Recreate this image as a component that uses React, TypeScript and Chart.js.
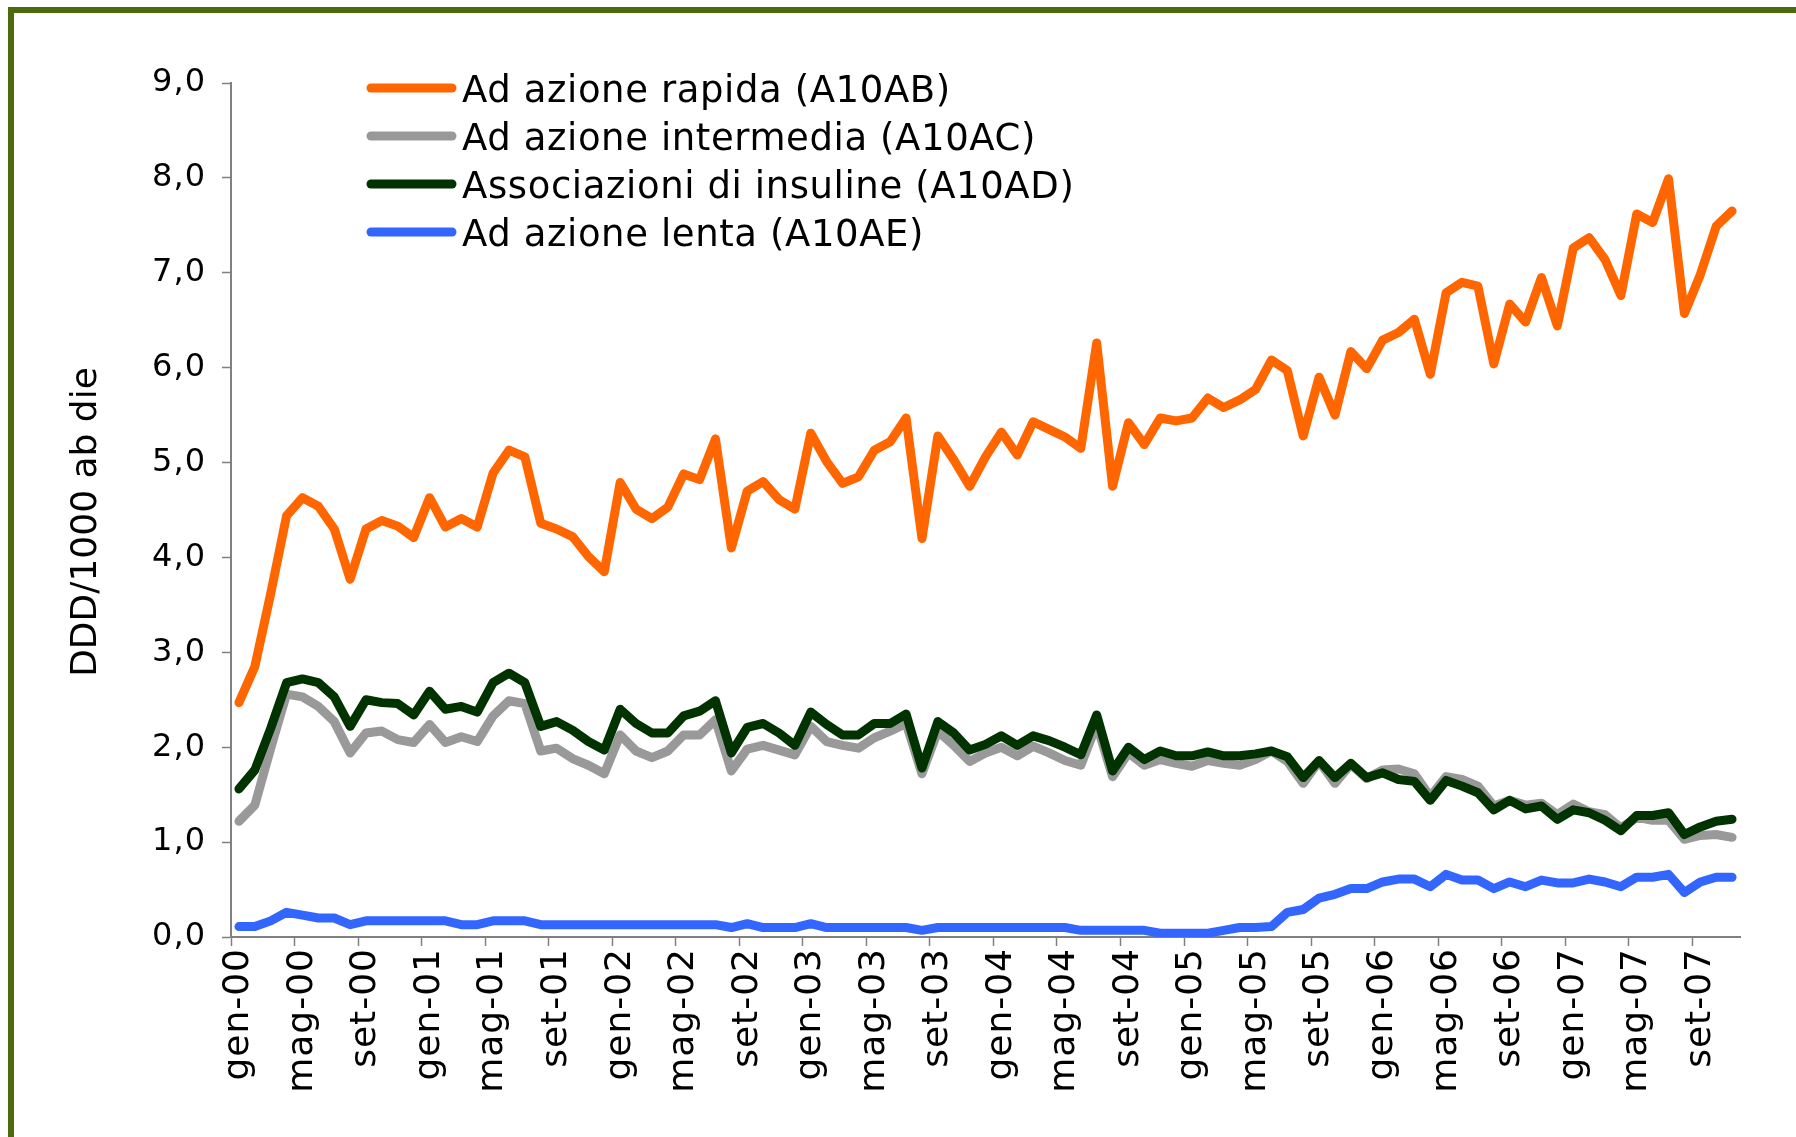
import React, { useEffect, useRef } from 'react';
import { Chart, registerables } from 'chart.js';

Chart.register(...registerables);

const MONTHS = ['gen', 'feb', 'mar', 'apr', 'mag', 'giu', 'lug', 'ago', 'set', 'ott', 'nov', 'dic'];
const YEARS = ['00', '01', '02', '03', '04', '05', '06', '07'];
const N_MONTHS = 95; // gen-00 .. nov-07

const categories: string[] = [];
for (const y of YEARS) for (const m of MONTHS) if (categories.length < N_MONTHS) categories.push(`${m}-${y}`);

const SERIES_LABELS = [
  'Ad azione rapida (A10AB)',
  'Ad azione intermedia (A10AC)',
  'Associazioni di insuline (A10AD)',
  'Ad azione lenta (A10AE)',
];

const rapida = [
  2.47, 2.85, 3.62, 4.44, 4.63, 4.54, 4.30, 3.77, 4.30, 4.39,
  4.33, 4.21, 4.63, 4.32, 4.41, 4.32, 4.89, 5.13, 5.06, 4.36,
  4.30, 4.22, 4.01, 3.85, 4.79, 4.51, 4.41, 4.53, 4.88, 4.82,
  5.25, 4.10, 4.70, 4.80, 4.61, 4.51, 5.31, 5.01, 4.78, 4.85,
  5.13, 5.22, 5.47, 4.20, 5.28, 5.03, 4.75, 5.06, 5.32, 5.08,
  5.43, 5.35, 5.27, 5.15, 6.26, 4.75, 5.42, 5.19, 5.47, 5.44,
  5.47, 5.68, 5.58, 5.66, 5.77, 6.08, 5.97, 5.28, 5.90, 5.50,
  6.17, 5.99, 6.29, 6.37, 6.51, 5.93, 6.79, 6.90, 6.86, 6.04,
  6.67, 6.48, 6.95, 6.44, 7.26, 7.37, 7.14, 6.76, 7.62, 7.53,
  7.99, 6.57, 6.98, 7.49, 7.65,
];

const intermedia = [
  1.22, 1.39, 1.99, 2.56, 2.53, 2.43, 2.27, 1.94, 2.15, 2.17,
  2.08, 2.05, 2.24, 2.05, 2.11, 2.06, 2.33, 2.49, 2.46, 1.96,
  1.99, 1.88, 1.81, 1.72, 2.13, 1.96, 1.89, 1.96, 2.13, 2.13,
  2.29, 1.75, 1.98, 2.02, 1.97, 1.92, 2.22, 2.06, 2.02, 1.99,
  2.10, 2.17, 2.25, 1.72, 2.17, 2.02, 1.85, 1.94, 2.00, 1.91,
  2.01, 1.94, 1.86, 1.81, 2.24, 1.69, 1.94, 1.81, 1.87, 1.83,
  1.80, 1.86, 1.83, 1.81, 1.87, 1.96, 1.85, 1.62, 1.85, 1.62,
  1.82, 1.67, 1.76, 1.77, 1.72, 1.48, 1.69, 1.66, 1.59, 1.38,
  1.44, 1.39, 1.41, 1.29, 1.40, 1.32, 1.29, 1.15, 1.26, 1.23,
  1.23, 1.03, 1.07, 1.08, 1.05,
];

const associazioni = [
  1.56, 1.76, 2.20, 2.68, 2.72, 2.68, 2.53, 2.22, 2.50, 2.47,
  2.46, 2.34, 2.59, 2.40, 2.43, 2.37, 2.68, 2.78, 2.68, 2.22,
  2.27, 2.18, 2.06, 1.97, 2.40, 2.25, 2.15, 2.15, 2.33, 2.38,
  2.49, 1.94, 2.21, 2.25, 2.15, 2.02, 2.37, 2.24, 2.13, 2.13,
  2.25, 2.25, 2.35, 1.78, 2.27, 2.15, 1.97, 2.03, 2.12, 2.02,
  2.12, 2.07, 2.00, 1.92, 2.34, 1.75, 2.00, 1.87, 1.96, 1.91,
  1.91, 1.95, 1.91, 1.91, 1.93, 1.96, 1.90, 1.68, 1.86, 1.68,
  1.83, 1.68, 1.73, 1.66, 1.64, 1.44, 1.65, 1.59, 1.52, 1.34,
  1.44, 1.35, 1.38, 1.24, 1.34, 1.31, 1.23, 1.12, 1.28, 1.28,
  1.31, 1.08, 1.16, 1.22, 1.24,
];

const lenta = [
  0.11, 0.11, 0.17, 0.26, 0.23, 0.20, 0.20, 0.13, 0.17, 0.17,
  0.17, 0.17, 0.17, 0.17, 0.13, 0.13, 0.17, 0.17, 0.17, 0.13,
  0.13, 0.13, 0.13, 0.13, 0.13, 0.13, 0.13, 0.13, 0.13, 0.13,
  0.13, 0.10, 0.14, 0.10, 0.10, 0.10, 0.14, 0.10, 0.10, 0.10,
  0.10, 0.10, 0.10, 0.07, 0.10, 0.10, 0.10, 0.10, 0.10, 0.10,
  0.10, 0.10, 0.10, 0.07, 0.07, 0.07, 0.07, 0.07, 0.04, 0.04,
  0.04, 0.04, 0.07, 0.10, 0.10, 0.11, 0.26, 0.29, 0.41, 0.45,
  0.51, 0.51, 0.58, 0.61, 0.61, 0.53, 0.66, 0.60, 0.60, 0.51,
  0.58, 0.53, 0.60, 0.57, 0.57, 0.61, 0.58, 0.53, 0.63, 0.63,
  0.66, 0.47, 0.58, 0.63, 0.63,
];

const SERIES_COLORS = ['#FF6600', '#999999', '#003300', '#3366FF'];
const Y_TITLE = 'DDD/1000 ab die';
const FONT = '"DejaVu Sans", Verdana, sans-serif';

const LEGEND_ROWS_Y = [88, 136, 184, 232];

const overlayPlugin = {
  id: 'overlay',
  beforeDraw(chart: any) {
    (chart.ctx as any).letterSpacing = '1px';
  },
  afterDraw(chart: any) {
    const ctx = chart.ctx as CanvasRenderingContext2D;
    ctx.save();
    SERIES_LABELS.forEach((label, k) => {
      const y = LEGEND_ROWS_Y[k];
      ctx.strokeStyle = SERIES_COLORS[k];
      ctx.lineWidth = 9;
      ctx.lineCap = 'round';
      ctx.beginPath();
      ctx.moveTo(371, y);
      ctx.lineTo(452, y);
      ctx.stroke();
      ctx.fillStyle = '#000';
      ctx.font = `37px ${FONT}`;
      (ctx as any).letterSpacing = '0.6px';
      ctx.textAlign = 'left';
      ctx.textBaseline = 'alphabetic';
      ctx.fillText(label, 462, y + 14);
    });
    ctx.translate(96, 522);
    ctx.rotate(-Math.PI / 2);
    (ctx as any).letterSpacing = '0px';
    ctx.textAlign = 'center';
    ctx.textBaseline = 'alphabetic';
    ctx.font = `36px ${FONT}`;
    ctx.fillStyle = '#000';
    ctx.fillText(Y_TITLE, 0, 0);
    ctx.restore();
  },
};

export default function App() {
  const ref = useRef<HTMLCanvasElement>(null);

  useEffect(() => {
    document.body.style.margin = '0';
    const seriesData = [rapida, intermedia, associazioni, lenta];
    const orders = [0, 2, 1, 3];
    const chart = new Chart(ref.current as HTMLCanvasElement, {
      type: 'line',
      data: {
        labels: categories,
        datasets: SERIES_LABELS.map((label, k) => ({
          label,
          data: seriesData[k],
          borderColor: SERIES_COLORS[k],
          backgroundColor: SERIES_COLORS[k],
          borderWidth: 9,
          pointRadius: 0,
          tension: 0,
          fill: false,
          borderJoinStyle: 'round',
          borderCapStyle: 'round',
          order: orders[k],
        })) as any,
      },
      options: {
        animation: false,
        responsive: false,
        maintainAspectRatio: false,
        devicePixelRatio: 1,
        layout: { padding: { top: 83, right: 56, left: 0, bottom: 0 } },
        plugins: { legend: { display: false }, tooltip: { enabled: false } },
        scales: {
          x: {
            type: 'category',
            offset: true,
            grid: {
              offset: true,
              drawOnChartArea: false,
              drawTicks: true,
              tickLength: 9,
              tickWidth: 1.5,
              tickColor: (c: any) => (c.index !== undefined && c.index % 4 === 0 ? '#808080' : 'rgba(0,0,0,0)'),
            },
            border: { display: true, color: '#808080', width: 2 },
            ticks: {
              autoSkip: false,
              maxRotation: 90,
              minRotation: 90,
              padding: 2,
              color: '#000',
              font: { family: FONT, size: 36 },
              callback: (_v: any, i: number) => (i % 4 === 0 ? categories[i] : ''),
            },
            afterFit: (s: any) => {
              s.height = 200;
            },
          },
          y: {
            min: 0,
            max: 9,
            ticks: {
              stepSize: 1,
              padding: 16,
              color: '#000',
              font: { family: FONT, size: 32 },
              callback: (v: any) => Number(v).toFixed(1).replace('.', ','),
            },
            grid: { drawOnChartArea: false, tickLength: 9, tickWidth: 1.5, tickColor: '#808080' },
            border: { display: true, color: '#808080', width: 2 },
            afterFit: (s: any) => {
              s.width = 231;
            },
          },
        },
      } as any,
      plugins: [overlayPlugin],
    });
    return () => chart.destroy();
  }, []);

  return (
    <div style={{ position: 'fixed', left: 0, top: 0, width: 1796, height: 1137, background: '#fff', overflow: 'hidden' }}>
      <div
        style={{
          position: 'absolute',
          left: 8,
          top: 7,
          width: 2000,
          height: 2000,
          borderLeft: '6px solid #4C6B0C',
          borderTop: '6px solid #4C6B0C',
        }}
      />
      <canvas ref={ref} width={1796} height={1137} style={{ position: 'absolute', left: 0, top: 0, display: 'block' }} />
    </div>
  );
}
